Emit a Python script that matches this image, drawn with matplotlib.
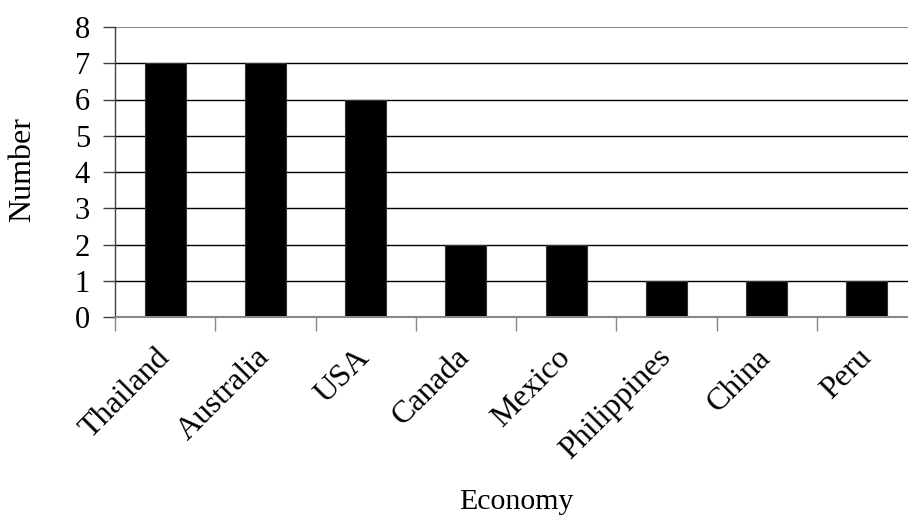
import matplotlib
matplotlib.use("Agg")
import matplotlib.pyplot as plt
import numpy as np

categories = ["Thailand", "Australia", "USA", "Canada", "Mexico", "Philippines", "China", "Peru"]
values = [7, 7, 6, 2, 2, 1, 1, 1]
yticks = [0, 1, 2, 3, 4, 5, 6, 7, 8]

plt.rcParams['font.family'] = ['Liberation Serif', 'DejaVu Serif']

fig = plt.figure(figsize=(9.08, 5.16), dpi=100)
ax = fig.add_axes([115/908, (516-317)/516, 802/908, 290/516])

x = np.arange(len(categories))
ax.set_xlim(-0.5, len(categories) - 0.5)
ax.set_ylim(0, 8)

for v in yticks[1:-1]:
    ax.axhline(v, color='black', lw=1.0, zorder=1)
ax.axhline(8, color='#888888', lw=1.5, zorder=1)

ax.bar(x, values, width=0.41, color='black', edgecolor='#333333', lw=0.8, zorder=2)

for s in ['top', 'right']:
    ax.spines[s].set_visible(False)
ax.spines['left'].set_color('#404040')
ax.spines['left'].set_linewidth(1.0)
ax.spines['bottom'].set_color('#888888')
ax.spines['bottom'].set_linewidth(1.5)

ax.set_yticks(yticks)
ax.set_yticklabels([str(v) for v in yticks], fontsize=22)
ax.tick_params(axis='y', length=9, width=1, color='#404040', pad=9)

ax.set_xticks(x)
ax.set_xticklabels(categories, fontsize=23, rotation=45, ha='right', va='center',
                   rotation_mode='anchor')
ax.tick_params(axis='x', which='major', length=0, pad=26)
ax.set_xticks(np.arange(-0.5, len(categories)), minor=True)
ax.tick_params(axis='x', which='minor', length=10, width=1, color='#888888')

fig.text(23/908, 1 - 170/516, "Number", fontsize=23, rotation=90, ha='center', va='center')
fig.text(516/908, 1 - 509/516, "Economy", fontsize=21.5, ha='center', va='baseline')

fig.savefig("out.png", dpi=100)
